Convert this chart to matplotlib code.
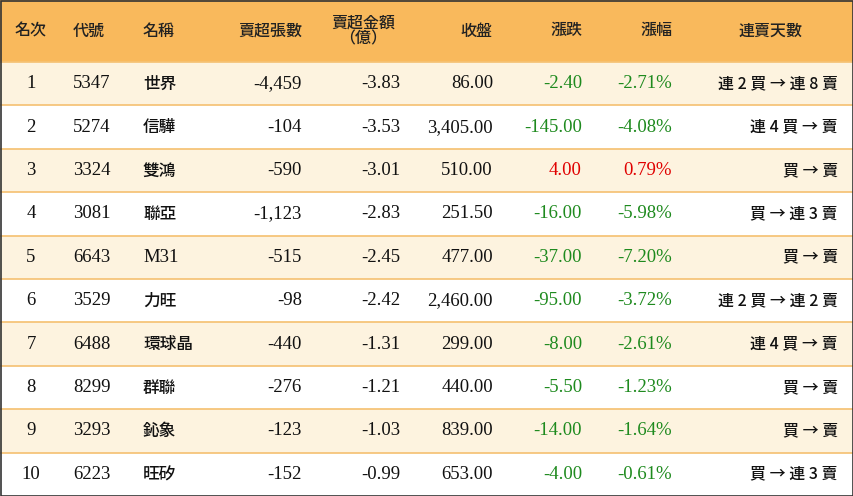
import matplotlib
matplotlib.use("Agg")
import matplotlib.pyplot as plt
from matplotlib.patches import Rectangle
from matplotlib import font_manager as fm

rank = list(range(1, 11))
codes = ["5347", "5274", "3324", "3081", "6643", "3529", "6488", "8299", "3293", "6223"]
names = ["世界", "信驊", "雙鴻", "聯亞", "M31", "力旺", "環球晶", "群聯", "鈊象", "旺矽"]
sell_lots = [-4459, -104, -590, -1123, -515, -98, -440, -276, -123, -152]
sell_amt = [-3.83, -3.53, -3.01, -2.83, -2.45, -2.42, -1.31, -1.21, -1.03, -0.99]
close = [86.00, 3405.00, 510.00, 251.50, 477.00, 2460.00, 299.00, 440.00, 839.00, 653.00]
change = [-2.40, -145.00, 4.00, -16.00, -37.00, -95.00, -8.00, -5.50, -14.00, -4.00]
pct = [-2.71, -4.08, 0.79, -5.98, -7.20, -3.72, -2.61, -1.23, -1.64, -0.61]
streak = ["連 2 買 → 連 8 賣", "連 4 買 → 賣", "買 → 賣", "買 → 連 3 賣", "買 → 賣",
          "連 2 買 → 連 2 賣", "連 4 買 → 賣", "買 → 賣", "買 → 賣", "買 → 連 3 賣"]
headers = ["名次", "代號", "名稱", "賣超張數", "賣超金額\n（億）", "收盤", "漲跌", "漲幅", "連賣天數"]

cands = [f for f in fm.fontManager.ttflist if "CJK" in f.name]
pref = [f for f in cands if "TC" in f.name] or cands
cjk_prop = fm.FontProperties(fname=pref[0].fname) if pref else fm.FontProperties(family="Noto Sans CJK TC")

W, H = 854, 496
fig = plt.figure(figsize=(W/100, H/100), dpi=100)
ax = fig.add_axes([0, 0, 1, 1])
ax.set_xlim(0, W); ax.set_ylim(H, 0); ax.axis("off")

serif = "Liberation Serif"
hdr_h = 62
row_h = (H - hdr_h) / 10
ax.add_patch(Rectangle((0, 0), W, hdr_h, color="#F9B95C", zorder=0))
for i in range(10):
    y0 = hdr_h + i*row_h
    ax.add_patch(Rectangle((0, y0), W, row_h, color="#FDF3DF" if i % 2 == 0 else "white", zorder=0))
    ax.plot([0, W], [y0, y0], color="#F5C070", lw=1.2, zorder=1)
ax.add_patch(Rectangle((0.5, 0.5), W-1, H-1, fill=False, ec="#333333", lw=1.2, zorder=3))

def cj(size):
    p = cjk_prop.copy(); p.set_size(size); return p

hx = [(31, "center"), (73, "left"), (143, "left"), (302, "right"), (363, "center"),
      (493, "right"), (582, "right"), (672, "right"), (770, "center")]
for (x, ha), h in zip(hx, headers):
    ax.text(x, hdr_h/2, h, ha=ha, va="center", fontproperties=cj(11.5),
            color="#222", linespacing=0.95)

green, red = "#1E8A1E", "#E00000"
for i in range(10):
    yc = hdr_h + (i+0.5)*row_h
    col = red if change[i] > 0 else green
    kw = dict(va="center", fontsize=13.5, family=serif, color="#111")
    ax.text(31, yc, str(rank[i]), ha="center", **kw)
    ax.text(73, yc, codes[i], ha="left", **kw)
    if names[i].isascii():
        ax.text(143, yc, names[i], ha="left", **kw)
    else:
        ax.text(143, yc, names[i], ha="left", va="center", fontproperties=cj(12), color="#111")
    ax.text(302, yc, f"{sell_lots[i]:,}", ha="right", **kw)
    ax.text(400, yc, f"{sell_amt[i]:.2f}", ha="right", **kw)
    ax.text(493, yc, f"{close[i]:,.2f}", ha="right", **kw)
    kw2 = dict(kw); kw2["color"] = col
    ax.text(582, yc, f"{change[i]:,.2f}", ha="right", **kw2)
    ax.text(672, yc, f"{pct[i]:.2f}%", ha="right", **kw2)
    ax.text(838, yc, streak[i], ha="right", va="center", fontproperties=cj(11.5), color="#111")

fig.savefig("out.png", dpi=100)
